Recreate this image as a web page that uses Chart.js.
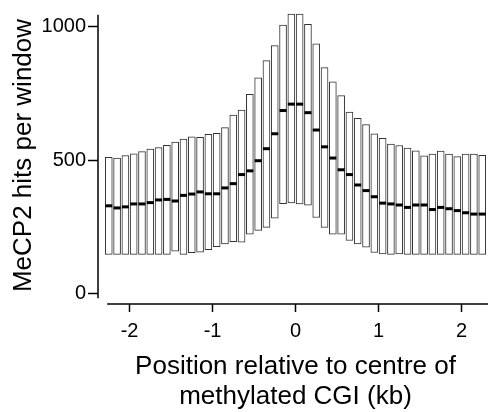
<!DOCTYPE html>
<html>
<head>
<meta charset="utf-8">
<script src="https://cdn.jsdelivr.net/npm/chart.js@4/dist/chart.umd.min.js"></script>
<style>
  html, body { margin: 0; padding: 0; background: #fff; overflow: hidden; }
  #wrap { width: 500px; height: 412px; }
</style>
</head>
<body>
<div id="wrap"><canvas id="box" width="500" height="412"></canvas></div>
<script>
// window centres (kb from CGI centre)
const positions = [
  -2.25, -2.15, -2.05, -1.95, -1.85, -1.75, -1.65, -1.55, -1.45, -1.35, -1.25, -1.15,
  -1.05, -0.95, -0.85, -0.75, -0.65, -0.55, -0.45, -0.35, -0.25, -0.15, -0.05,
  0.05, 0.15, 0.25, 0.35, 0.45, 0.55, 0.65, 0.75, 0.85, 0.95, 1.05, 1.15,
  1.25, 1.35, 1.45, 1.55, 1.65, 1.75, 1.85, 1.95, 2.05, 2.15, 2.25
]
// lower quartile, median, upper quartile of hits per window
const lowerQ = [
  147, 147, 147, 147, 147, 147, 147, 147, 159, 147, 153, 155,
  165, 176, 186, 195, 193, 223, 237, 248, 283, 337, 340,
  336, 331, 285, 248, 223, 223, 199, 186, 174, 154, 149, 147,
  149, 147, 147, 147, 147, 147, 147, 147, 147, 147, 147
]
const medians = [
  329, 321, 325, 336, 336, 341, 351, 353, 347, 368, 373, 381,
  374, 374, 396, 412, 446, 460, 498, 543, 599, 686, 710,
  710, 678, 613, 550, 508, 464, 446, 407, 386, 363, 339, 336,
  332, 323, 332, 332, 315, 323, 318, 311, 303, 298, 298
]
const upperQ = [
  511, 508, 517, 524, 532, 542, 547, 556, 568, 579, 587, 586,
  597, 601, 622, 669, 688, 747, 809, 873, 929, 1006, 1047,
  1047, 1009, 936, 847, 794, 742, 680, 657, 633, 599, 582, 560,
  555, 545, 535, 516, 523, 534, 523, 513, 523, 523, 518
]
const xTicks = [-2, -1, 0, 1, 2]
const yTicks = [0, 500, 1000]

const boxes = positions.map((p, i) => ({ x: p, y: [lowerQ[i], upperQ[i]] }))
const mids = positions.map((p, i) => ({ x: p, y: medians[i] }))

// R-style detached axis lines
const axisLines = {
  id: 'axisLines',
  afterDraw(chart) {
    const { ctx, chartArea, scales: { x, y } } = chart
    ctx.save()
    ctx.strokeStyle = '#000'
    ctx.lineWidth = 1.5
    ctx.beginPath()
    ctx.moveTo(chartArea.left, y.getPixelForValue(1045))
    ctx.lineTo(chartArea.left, y.getPixelForValue(-17))
    ctx.moveTo(x.getPixelForValue(-2.27), chartArea.bottom)
    ctx.lineTo(chartArea.right, chartArea.bottom)
    ctx.stroke()
    ctx.restore()
  }
}

// fixed axis boxes, no extra room for edge labels
const fitX = (s) => { s.height = 108; s.paddingLeft = 0; s.paddingRight = 0 }
const fitY = (s) => { s.width = 98; s.paddingTop = 0; s.paddingBottom = 0 }

Chart.defaults.font.family = '"Liberation Sans", Arial, Helvetica, sans-serif'
Chart.defaults.color = '#000'

new Chart(document.getElementById('box'), {
  type: 'bar',
  data: {
    datasets: [
      {
        type: 'scatter',
        data: mids,
        pointStyle: 'line',
        radius: 3.5,
        borderWidth: 3,
        borderColor: '#000',
        order: 0
      },
      {
        data: boxes,
        backgroundColor: '#fff',
        borderColor: '#333',
        borderWidth: 1,
        borderSkipped: false,
        barThickness: 7,
        order: 1
      }
    ]
  },
  options: {
    responsive: false,
    animation: false,
    layout: { padding: { top: 4, right: 0, bottom: 0, left: 0 } },
    plugins: { legend: { display: false }, tooltip: { enabled: false } },
    scales: {
      x: {
        type: 'linear',
        min: -2.38,
        max: 2.38,
        offset: false,
        afterFit: fitX,
        afterBuildTicks: (s) => { s.ticks = xTicks.map(v => ({ value: v })) },
        grid: { offset: false, drawOnChartArea: false, tickLength: 8, tickWidth: 1.5, tickColor: '#000' },
        border: { display: false },
        ticks: { padding: 7, font: { size: 20 }, maxRotation: 0, callback: (v) => String(v) },
        title: {
          display: true,
          text: ['Position relative to centre of', 'methylated CGI (kb)'],
          font: { size: 26, lineHeight: 1.12 },
          padding: { top: 0, bottom: 1 }
        }
      },
      y: {
        min: -39,
        max: 1074,
        afterFit: fitY,
        afterBuildTicks: (s) => { s.ticks = yTicks.map(v => ({ value: v })) },
        grid: { drawOnChartArea: false, tickLength: 10, tickWidth: 1.5, tickColor: '#000' },
        border: { display: false },
        ticks: { padding: 2, font: { size: 20 }, callback: (v) => String(v) },
        title: {
          display: true,
          text: 'MeCP2 hits per window',
          font: { size: 26, lineHeight: 1.2 },
          padding: { top: 8, bottom: 0 }
        }
      }
    }
  },
  plugins: [axisLines]
})
</script>
</body>
</html>
